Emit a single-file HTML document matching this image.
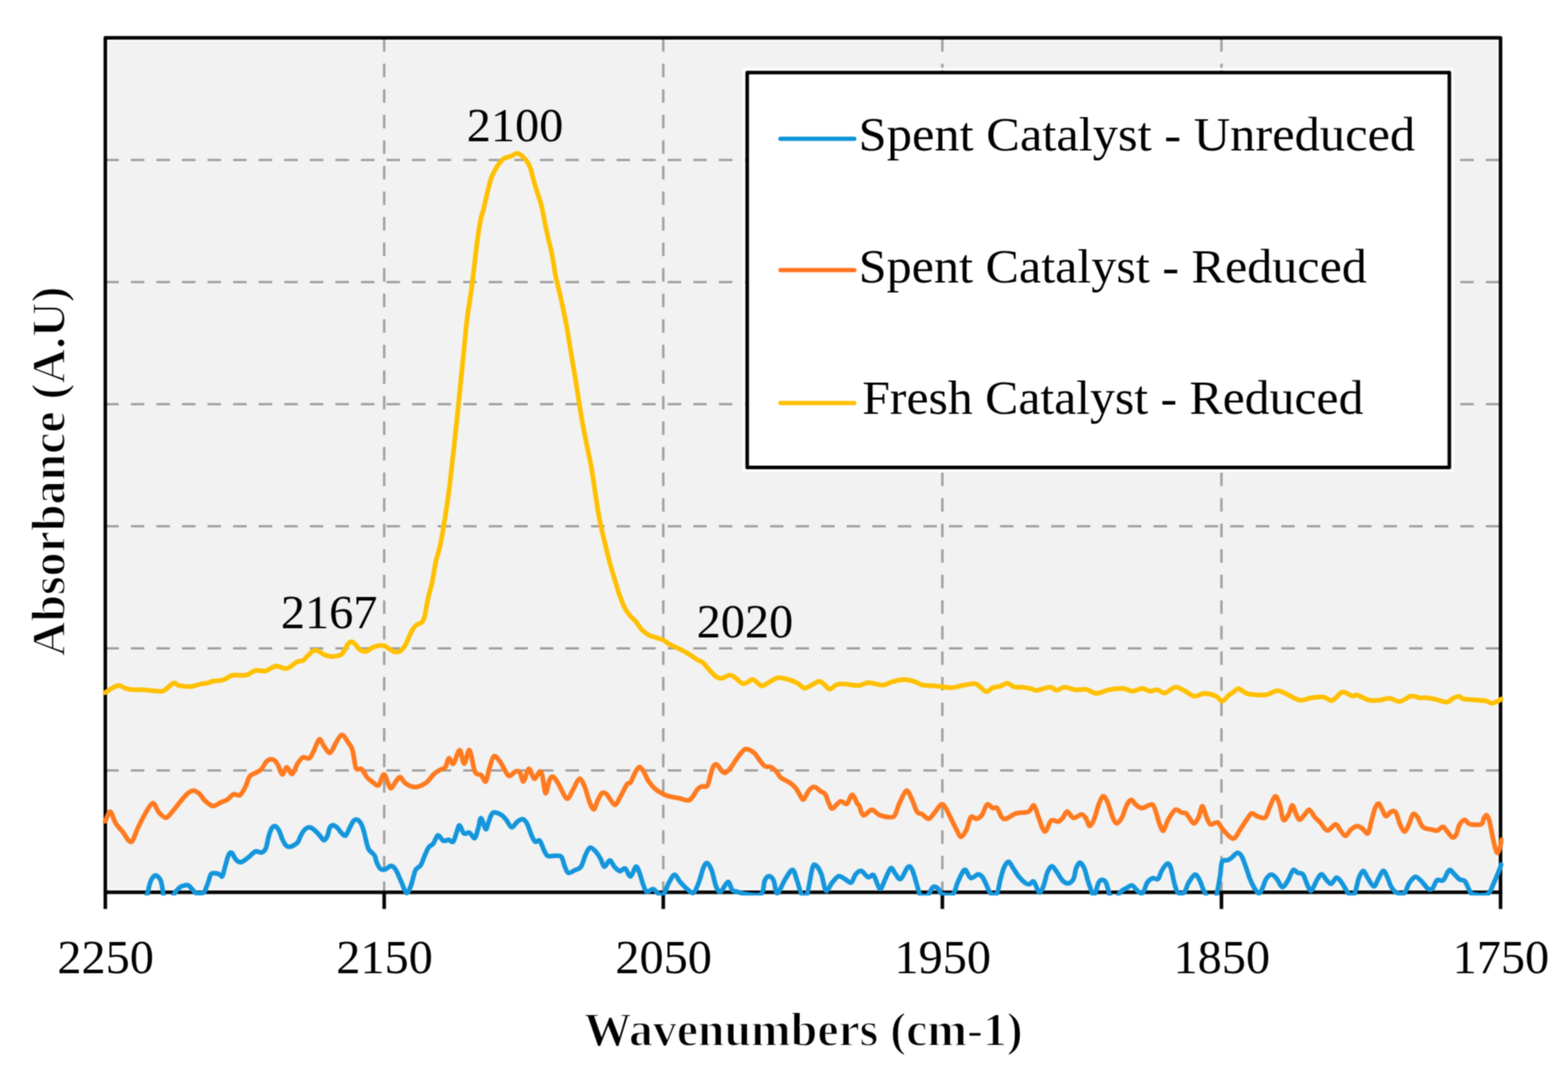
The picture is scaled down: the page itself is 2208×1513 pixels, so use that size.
<!DOCTYPE html>
<html><head><meta charset="utf-8"><title>FTIR chart</title>
<style>
html,body{margin:0;padding:0;background:#fff;overflow:hidden;}
svg{display:block;}
.t{font-family:"Liberation Serif",serif;font-size:68px;fill:#000;}
.b{font-family:"Liberation Serif",serif;font-size:68px;font-weight:bold;fill:#000;stroke:#fff;stroke-width:1.8px;}
</style></head><body>
<svg width="2208" height="1513" viewBox="0 0 2208 1513">
<defs><filter id="soft" x="0" y="0" width="1" height="1" color-interpolation-filters="sRGB"><feConvolveMatrix order="3" kernelMatrix="1 2 1 2 4 2 1 2 1" divisor="16" edgeMode="duplicate" preserveAlpha="true"/></filter></defs>
<g filter="url(#soft)">
<rect x="0" y="0" width="2208" height="1513" fill="#fff"/>
<rect x="148.3" y="53.2" width="1964.7" height="1203.8" fill="#f2f2f2"/>
<rect x="152.10000000000002" y="57.0" width="1957.1" height="1196.2" fill="none" stroke="#fbfbfb" stroke-width="3"/>
<line x1="148.3" y1="225.4" x2="2113.0" y2="225.4" stroke="#a0a0a0" stroke-width="3.4" stroke-dasharray="19 17"/>
<line x1="148.3" y1="397.4" x2="2113.0" y2="397.4" stroke="#a0a0a0" stroke-width="3.4" stroke-dasharray="19 17"/>
<line x1="148.3" y1="569.4" x2="2113.0" y2="569.4" stroke="#a0a0a0" stroke-width="3.4" stroke-dasharray="19 17"/>
<line x1="148.3" y1="741.4" x2="2113.0" y2="741.4" stroke="#a0a0a0" stroke-width="3.4" stroke-dasharray="19 17"/>
<line x1="148.3" y1="913.4" x2="2113.0" y2="913.4" stroke="#a0a0a0" stroke-width="3.4" stroke-dasharray="19 17"/>
<line x1="148.3" y1="1085.4" x2="2113.0" y2="1085.4" stroke="#a0a0a0" stroke-width="3.4" stroke-dasharray="19 17"/>
<line x1="541.0" y1="53.7" x2="541.0" y2="1257.0" stroke="#a0a0a0" stroke-width="3.4" stroke-dasharray="19 17"/>
<line x1="934.0" y1="53.7" x2="934.0" y2="1257.0" stroke="#a0a0a0" stroke-width="3.4" stroke-dasharray="19 17"/>
<line x1="1327.0" y1="53.7" x2="1327.0" y2="1257.0" stroke="#a0a0a0" stroke-width="3.4" stroke-dasharray="19 17"/>
<line x1="1720.0" y1="53.7" x2="1720.0" y2="1257.0" stroke="#a0a0a0" stroke-width="3.4" stroke-dasharray="19 17"/>
<rect x="148.3" y="53.2" width="1964.7" height="1203.8" fill="none" stroke="#000" stroke-width="5" stroke-linejoin="round"/>
<line x1="148.3" y1="1257.0" x2="148.3" y2="1280.5" stroke="#000" stroke-width="5"/>
<line x1="541.0" y1="1257.0" x2="541.0" y2="1280.5" stroke="#000" stroke-width="5"/>
<line x1="934.0" y1="1257.0" x2="934.0" y2="1280.5" stroke="#000" stroke-width="5"/>
<line x1="1327.0" y1="1257.0" x2="1327.0" y2="1280.5" stroke="#000" stroke-width="5"/>
<line x1="1720.0" y1="1257.0" x2="1720.0" y2="1280.5" stroke="#000" stroke-width="5"/>
<line x1="2113.0" y1="1257.0" x2="2113.0" y2="1280.5" stroke="#000" stroke-width="5"/>
<rect x="1047.2" y="97.2" width="998.7" height="566.3" fill="none" stroke="#fcfcfc" stroke-width="3.5" stroke-linejoin="round"/>
<rect x="1052.2" y="102.2" width="988.7" height="556.3" fill="#fff" stroke="#000" stroke-width="5" stroke-linejoin="round"/>
<line x1="1099" y1="195.5" x2="1203" y2="195.5" stroke="#0a94d6" stroke-width="6" stroke-linecap="round"/>
<text x="1209.1" y="212" class="t" textLength="783.7" lengthAdjust="spacingAndGlyphs">Spent Catalyst - Unreduced</text>
<line x1="1099" y1="380.6" x2="1203" y2="380.6" stroke="#ff7320" stroke-width="6" stroke-linecap="round"/>
<text x="1209.3" y="398" class="t" textLength="715.5" lengthAdjust="spacingAndGlyphs">Spent Catalyst - Reduced</text>
<line x1="1099" y1="567.7" x2="1203" y2="567.7" stroke="#ffc000" stroke-width="6" stroke-linecap="round"/>
<text x="1214.2" y="583" class="t" textLength="705.7" lengthAdjust="spacingAndGlyphs">Fresh Catalyst - Reduced</text>
<text x="148.70000000000002" y="1370.5" class="t" text-anchor="middle">2250</text>
<text x="541.4" y="1370.5" class="t" text-anchor="middle">2150</text>
<text x="934.4" y="1370.5" class="t" text-anchor="middle">2050</text>
<text x="1327.4" y="1370.5" class="t" text-anchor="middle">1950</text>
<text x="1720.4" y="1370.5" class="t" text-anchor="middle">1850</text>
<text x="2113.4" y="1370.5" class="t" text-anchor="middle">1750</text>
<text x="725.2" y="199.3" class="t" text-anchor="middle">2100</text>
<text x="463.4" y="885.2" class="t" text-anchor="middle">2167</text>
<text x="1049" y="897.8" class="t" text-anchor="middle">2020</text>
<text x="1131.2" y="1473.2" class="b" text-anchor="middle" textLength="618" lengthAdjust="spacingAndGlyphs">Wavenumbers (cm-1)</text>
<text transform="translate(91,664.0) rotate(-90)" class="b" text-anchor="middle" textLength="521" lengthAdjust="spacingAndGlyphs">Absorbance (A.U)</text>
<defs><clipPath id="pc"><rect x="145" y="50" width="1972" height="1211.5"/></clipPath></defs>
<g clip-path="url(#pc)" fill="none" stroke-width="6.6" stroke-linejoin="round" stroke-linecap="round">
<path d="M148.2,975.8C149.5,974.9 153.1,972.1 156.3,970.4C159.5,968.7 163.8,965.7 167.2,965.6C170.6,965.5 173.3,968.7 176.7,969.7C180.1,970.7 183.5,971.4 187.6,971.7C191.7,972.0 196.3,971.5 201.1,971.7C205.8,971.9 211.6,972.8 216.1,973.1C220.6,973.5 225.1,974.4 228.3,973.8C231.5,973.2 232.4,971.6 235.1,969.7C237.8,967.8 241.9,962.9 244.6,962.2C247.3,961.5 248.4,964.8 251.4,965.6C254.4,966.4 259.1,966.8 262.3,967.0C265.5,967.2 267.0,967.6 270.4,967.0C273.8,966.4 279.1,964.4 282.7,963.6C286.3,962.8 289.3,962.9 292.2,962.2C295.1,961.5 297.4,960.1 300.3,959.5C303.2,958.9 307.1,959.2 309.8,958.8C312.5,958.3 313.7,958.0 316.6,956.8C319.6,955.5 324.1,952.2 327.5,951.3C330.9,950.4 333.6,951.4 337.0,951.3C340.4,951.2 344.0,951.8 347.9,950.7C351.8,949.6 355.8,945.4 360.1,944.5C364.4,943.6 368.9,946.2 373.7,945.2C378.4,944.2 383.6,939.0 388.6,938.4C393.6,937.8 398.6,942.8 403.6,941.8C408.6,940.8 414.7,934.1 418.5,932.3C422.3,930.4 424.1,932.1 426.5,930.7C428.9,929.3 430.5,926.5 433.0,924.1C435.5,921.7 439.1,917.7 441.7,916.5C444.2,915.3 445.9,916.2 448.3,917.1C450.7,918.0 453.0,920.7 455.9,922.0C458.8,923.3 462.6,924.4 465.7,924.7C468.8,925.1 471.6,924.7 474.3,924.1C477.0,923.5 479.4,923.6 482.0,920.9C484.6,918.2 487.4,910.6 489.6,907.8C491.8,905.0 493.2,904.0 495.0,904.0C496.8,904.0 498.4,905.9 500.4,907.8C502.4,909.7 504.4,913.8 507.0,915.4C509.6,917.0 512.8,918.1 515.7,917.6C518.6,917.1 521.2,913.6 524.3,912.2C527.4,910.9 531.2,909.9 534.1,909.5C537.0,909.1 539.3,909.2 541.7,910.0C544.1,910.8 545.8,912.8 548.3,914.3C550.8,915.8 554.3,918.3 557.0,918.7C559.7,919.1 562.3,918.2 564.6,916.5C566.9,914.8 568.4,913.3 570.9,908.7C573.4,904.1 577.3,893.4 579.8,888.8C582.3,884.2 583.5,882.9 585.8,880.9C588.1,878.9 591.7,879.0 593.7,877.0C595.7,875.0 596.6,872.8 597.7,869.0C598.9,865.2 599.6,859.2 600.6,854.2C601.6,849.2 602.4,844.3 603.6,839.3C604.8,834.3 606.5,829.3 607.6,824.4C608.8,819.5 609.4,815.4 610.5,809.6C611.6,803.8 612.5,796.3 614.0,789.7C615.5,783.1 617.7,778.1 619.5,769.9C621.3,761.7 622.9,752.6 624.9,740.4C626.9,728.2 629.5,711.6 631.5,696.8C633.5,682.0 635.5,663.3 636.8,651.8C638.1,640.3 638.3,639.0 639.5,628.0C640.7,617.0 642.2,603.0 644.0,586.0C645.8,569.0 648.3,543.1 650.0,525.9C651.7,508.7 653.0,495.9 654.3,483.0C655.6,470.1 656.4,460.1 657.8,448.7C659.2,437.2 661.5,424.2 662.9,414.3C664.3,404.4 665.1,398.2 666.2,389.1C667.3,380.1 668.4,369.7 669.6,360.0C670.8,350.3 672.1,339.4 673.3,330.9C674.5,322.4 675.6,315.4 676.9,309.1C678.2,302.8 680.0,298.4 681.3,293.1C682.6,287.8 683.7,282.2 684.9,277.1C686.1,272.0 687.3,267.1 688.5,262.5C689.7,257.9 690.6,253.6 692.2,249.5C693.8,245.4 696.1,241.2 698.0,237.8C699.9,234.4 701.9,231.5 703.8,229.1C705.7,226.7 707.2,224.8 709.6,223.3C712.0,221.9 715.2,221.6 718.4,220.4C721.5,219.2 725.6,216.0 728.5,216.0C731.4,216.0 733.4,218.2 735.8,220.4C738.2,222.6 741.1,225.9 743.1,229.1C745.1,232.2 746.0,234.9 747.5,239.3C749.0,243.7 750.3,250.2 751.8,255.3C753.2,260.4 754.8,265.2 756.2,269.8C757.7,274.4 759.3,278.8 760.5,282.9C761.7,287.0 762.5,290.1 763.5,294.5C764.5,298.9 765.4,304.2 766.4,309.1C767.4,314.0 768.2,318.5 769.3,323.6C770.4,328.7 771.7,334.5 772.9,339.6C774.1,344.7 775.4,348.9 776.5,354.2C777.6,359.5 778.5,365.8 779.5,371.6C780.5,377.4 781.3,383.7 782.4,389.1C783.5,394.5 784.4,397.2 786.0,404.0C787.6,410.8 789.9,420.6 791.9,429.8C793.9,439.1 796.1,449.6 797.9,459.5C799.7,469.4 801.1,479.4 802.8,489.3C804.4,499.2 806.3,510.1 807.8,519.0C809.3,527.9 810.4,534.6 811.7,542.9C813.0,551.2 814.2,559.5 815.7,568.7C817.2,578.0 818.9,588.5 820.7,598.4C822.5,608.3 824.6,618.3 826.6,628.2C828.6,638.1 830.8,647.6 832.6,657.9C834.4,668.2 836.0,679.6 837.6,690.0C839.2,700.4 840.7,711.5 842.2,720.4C843.7,729.3 844.9,735.1 846.7,743.2C848.5,751.3 850.6,760.2 852.8,769.1C855.0,778.0 857.4,788.1 859.7,796.5C862.0,804.9 864.4,812.2 866.5,819.3C868.6,826.4 870.3,832.7 872.6,839.0C874.9,845.3 877.7,852.5 880.2,857.3C882.7,862.1 885.3,865.0 887.8,868.0C890.3,871.0 892.9,872.6 895.4,875.6C897.9,878.6 900.2,883.2 903.0,886.2C905.8,889.2 908.6,891.8 912.1,893.8C915.6,895.8 920.8,897.1 924.3,898.4C927.8,899.7 930.4,899.9 933.4,901.4C936.4,902.9 939.7,905.9 942.5,907.5C945.3,909.1 947.4,909.8 950.0,911.0C952.6,912.2 954.5,913.1 958.0,914.9C961.5,916.7 966.7,919.4 970.7,921.8C974.7,924.2 978.9,927.6 982.1,929.5C985.3,931.4 987.0,931.0 989.7,933.3C992.5,935.6 995.4,940.0 998.6,943.4C1001.8,946.8 1005.8,951.5 1008.8,953.5C1011.8,955.5 1013.2,955.9 1016.4,955.5C1019.6,955.1 1024.6,951.1 1027.8,951.0C1031.0,950.9 1032.2,952.8 1035.4,954.8C1038.6,956.8 1042.8,962.7 1046.8,963.1C1050.8,963.5 1056.3,957.7 1059.5,957.4C1062.7,957.1 1063.5,959.7 1065.8,961.2C1068.1,962.7 1070.2,966.4 1073.4,966.2C1076.6,966.0 1081.1,961.8 1084.9,959.9C1088.7,958.0 1091.7,955.1 1096.3,954.8C1100.9,954.5 1108.3,956.7 1112.7,958.0C1117.1,959.3 1119.5,960.5 1122.9,962.4C1126.3,964.3 1129.6,969.0 1133.0,969.4C1136.4,969.8 1139.8,966.6 1143.2,965.0C1146.6,963.4 1150.3,960.0 1153.3,959.9C1156.2,959.8 1158.4,962.5 1160.9,964.3C1163.4,966.1 1165.5,970.7 1168.5,970.7C1171.5,970.7 1175.1,965.5 1178.7,964.3C1182.3,963.1 1185.0,963.5 1190.0,963.7C1195.0,963.9 1203.5,966.0 1209.0,965.7C1214.5,965.4 1217.3,961.9 1223.0,961.8C1228.7,961.7 1237.8,965.2 1243.3,965.0C1248.8,964.8 1250.8,961.9 1255.9,960.6C1261.0,959.3 1268.2,957.4 1273.7,957.4C1279.2,957.4 1284.7,959.3 1288.9,960.6C1293.1,961.9 1294.4,964.0 1299.1,965.0C1303.8,966.0 1310.0,965.7 1316.8,966.3C1323.5,966.9 1333.3,968.9 1339.6,968.8C1345.9,968.7 1349.3,966.7 1354.8,965.7C1360.3,964.8 1368.4,962.8 1372.6,963.1C1376.8,963.4 1377.5,965.7 1380.2,967.6C1383.0,969.5 1386.1,974.3 1389.1,974.5C1392.1,974.7 1394.8,970.1 1398.0,968.8C1401.2,967.5 1404.7,967.9 1408.1,966.9C1411.5,965.9 1414.9,962.4 1418.3,962.5C1421.7,962.6 1424.6,966.6 1428.4,967.6C1432.2,968.6 1436.9,967.7 1441.1,968.2C1445.3,968.7 1450.6,970.0 1453.8,970.7C1457.0,971.4 1455.8,973.0 1460.0,972.5C1464.2,972.0 1474.3,968.0 1479.0,968.0C1483.7,968.0 1484.5,972.5 1487.9,972.5C1491.3,972.5 1494.9,968.1 1499.3,968.0C1503.7,967.9 1509.4,971.3 1514.5,971.8C1519.6,972.3 1524.8,970.4 1529.7,971.2C1534.6,972.1 1538.4,976.8 1543.7,976.9C1549.0,977.0 1555.1,973.0 1561.4,971.8C1567.7,970.6 1576.2,969.6 1581.7,969.9C1587.2,970.2 1590.0,973.7 1594.4,973.7C1598.9,973.7 1604.2,969.9 1608.4,969.9C1612.6,969.9 1616.2,973.4 1619.8,973.7C1623.4,974.0 1626.5,971.4 1629.9,971.8C1633.3,972.2 1635.9,976.9 1640.1,976.3C1644.3,975.7 1650.6,968.5 1655.3,968.0C1660.0,967.5 1663.6,971.0 1668.0,973.1C1672.4,975.2 1677.2,980.1 1681.9,980.7C1686.6,981.3 1690.8,976.9 1695.9,976.9C1701.0,976.9 1708.1,978.9 1712.3,980.7C1716.5,982.5 1718.2,987.9 1721.2,987.7C1724.2,987.5 1727.6,981.5 1730.1,979.5C1732.6,977.5 1734.0,977.0 1736.3,975.5C1738.6,974.0 1740.8,970.2 1744.0,970.4C1747.2,970.6 1751.4,975.4 1755.4,976.8C1759.4,978.2 1763.3,978.4 1768.0,978.7C1772.7,979.0 1778.2,979.7 1783.3,978.7C1788.4,977.8 1794.1,973.3 1798.5,973.0C1802.9,972.7 1804.6,974.6 1809.9,976.8C1815.2,979.0 1824.1,985.2 1830.2,986.3C1836.3,987.3 1841.2,983.9 1846.7,983.1C1852.2,982.4 1858.4,981.2 1863.1,981.8C1867.8,982.4 1871.4,986.9 1874.6,986.9C1877.8,986.9 1879.5,983.8 1882.2,981.8C1884.9,979.8 1887.2,975.1 1891.0,974.9C1894.8,974.7 1901.6,979.9 1905.0,980.6C1908.4,981.3 1907.5,978.3 1911.3,979.3C1915.1,980.2 1922.5,985.1 1927.8,986.3C1933.1,987.5 1938.1,986.7 1943.0,986.3C1947.9,985.9 1952.3,983.4 1957.0,983.7C1961.7,984.0 1965.8,988.7 1970.9,988.2C1976.0,987.7 1982.6,981.4 1987.4,980.6C1992.2,979.8 1996.5,982.8 2000.0,983.2C2003.5,983.6 2004.6,982.5 2008.2,982.9C2011.8,983.2 2016.7,984.3 2021.7,985.3C2026.7,986.3 2033.9,989.4 2038.0,989.1C2042.1,988.8 2043.5,985.1 2046.2,983.7C2048.9,982.4 2051.8,980.8 2054.3,981.0C2056.8,981.2 2057.8,984.0 2061.4,984.8C2065.0,985.6 2070.9,985.4 2076.1,985.9C2081.3,986.4 2088.3,986.7 2092.4,987.5C2096.5,988.3 2097.8,990.7 2100.5,990.8C2103.2,990.9 2106.4,989.0 2108.7,988.0C2111.0,987.0 2113.2,985.3 2114.1,984.8" stroke="#ffc000"/>
<path d="M148.2,1157.0C149.4,1154.8 152.8,1143.2 155.2,1143.6C157.6,1144.0 159.8,1154.7 162.8,1159.5C165.8,1164.3 169.4,1167.8 173.0,1172.2C176.6,1176.6 181.0,1186.7 184.4,1186.1C187.8,1185.5 190.4,1174.3 193.3,1168.4C196.2,1162.5 198.5,1156.7 202.1,1150.6C205.7,1144.5 211.2,1132.6 214.8,1131.6C218.4,1130.5 220.5,1140.9 223.7,1144.3C226.9,1147.7 230.4,1152.3 233.8,1151.9C237.2,1151.5 240.6,1145.5 244.0,1141.7C247.4,1137.9 250.9,1132.9 254.1,1129.1C257.3,1125.3 260.0,1121.5 263.0,1118.9C266.0,1116.4 268.9,1113.9 271.9,1113.8C274.9,1113.7 278.1,1116.0 280.8,1118.3C283.6,1120.6 285.2,1124.9 288.4,1127.8C291.6,1130.7 296.0,1135.0 299.8,1135.4C303.6,1135.8 307.8,1131.8 311.2,1130.3C314.6,1128.8 317.2,1128.4 320.1,1126.5C323.1,1124.6 325.9,1120.0 328.9,1118.9C331.8,1117.9 335.1,1121.9 337.8,1120.2C340.6,1118.5 343.1,1113.2 345.4,1108.8C347.7,1104.3 349.3,1096.9 351.8,1093.5C354.3,1090.1 357.9,1090.2 360.6,1088.5C363.4,1086.8 365.8,1086.2 368.3,1083.4C370.9,1080.7 373.2,1074.2 375.9,1072.0C378.6,1069.8 382.2,1069.2 384.7,1070.1C387.2,1070.9 389.0,1073.6 391.1,1077.1C393.2,1080.6 395.3,1090.4 397.4,1091.0C399.5,1091.6 401.5,1081.0 403.8,1080.9C406.1,1080.8 408.9,1091.2 411.4,1090.4C413.9,1089.6 416.5,1079.7 419.0,1075.8C421.5,1071.9 423.9,1068.2 426.6,1066.9C429.4,1065.6 433.0,1069.7 435.5,1068.2C438.0,1066.7 439.5,1062.4 441.8,1058.0C444.1,1053.6 447.2,1042.9 449.5,1041.6C451.8,1040.3 453.3,1047.2 455.8,1050.4C458.3,1053.6 461.9,1061.0 464.7,1060.6C467.4,1060.2 469.6,1052.1 472.3,1047.9C475.1,1043.7 478.2,1035.6 481.2,1035.2C484.1,1034.8 487.5,1041.8 490.0,1045.4C492.5,1049.0 494.5,1050.7 496.4,1056.8C498.3,1062.9 499.3,1077.7 501.4,1082.1C503.5,1086.5 506.6,1081.3 509.1,1083.4C511.7,1085.5 514.0,1091.6 516.7,1094.8C519.4,1098.0 522.8,1100.5 525.5,1102.4C528.2,1104.3 530.6,1108.1 533.1,1106.2C535.6,1104.3 538.0,1090.4 540.8,1091.0C543.5,1091.6 546.9,1108.3 549.6,1110.0C552.3,1111.7 554.9,1103.7 557.2,1101.2C559.5,1098.7 561.3,1094.4 563.6,1094.8C565.9,1095.2 567.6,1101.4 571.2,1103.7C574.8,1106.0 580.2,1109.0 585.1,1108.8C590.0,1108.6 596.2,1105.4 600.4,1102.4C604.6,1099.4 607.3,1094.0 610.5,1091.0C613.7,1088.0 616.6,1086.4 619.4,1084.7C622.1,1083.0 624.9,1083.7 627.0,1080.9C629.1,1078.2 630.2,1069.1 632.1,1068.2C634.0,1067.3 635.9,1077.7 638.4,1075.8C640.9,1073.9 644.8,1056.8 647.3,1056.8C649.8,1056.8 651.3,1075.8 653.6,1075.8C655.9,1075.8 658.7,1054.9 661.2,1056.8C663.7,1058.7 666.1,1081.3 668.8,1087.2C671.5,1093.1 675.1,1089.7 677.6,1092.0C680.1,1094.3 682.1,1102.4 684.0,1100.9C685.9,1099.4 687.1,1089.0 689.0,1083.1C690.9,1077.2 692.9,1067.1 695.4,1065.4C697.9,1063.7 701.7,1069.8 704.2,1073.0C706.7,1076.2 708.5,1081.0 710.6,1084.4C712.7,1087.8 714.4,1092.9 716.9,1093.3C719.4,1093.7 723.3,1087.8 725.8,1086.9C728.3,1086.1 730.2,1085.9 732.1,1088.2C734.0,1090.5 735.1,1101.8 737.2,1100.9C739.3,1100.1 742.3,1083.7 744.8,1083.1C747.3,1082.5 749.9,1096.5 752.4,1097.1C754.9,1097.7 758.1,1087.5 760.0,1086.9C761.9,1086.3 762.4,1088.2 763.8,1093.3C765.2,1098.4 766.6,1116.6 768.3,1117.4C770.0,1118.2 772.2,1102.1 774.0,1098.3C775.8,1094.5 777.0,1093.4 779.1,1094.5C781.2,1095.6 783.5,1099.6 786.7,1104.7C789.9,1109.8 794.7,1123.7 798.1,1125.0C801.5,1126.3 804.0,1117.0 807.0,1112.3C810.0,1107.6 813.1,1097.7 815.8,1097.1C818.5,1096.5 821.1,1103.2 823.4,1108.5C825.7,1113.8 827.7,1123.5 829.8,1128.8C831.9,1134.1 834.2,1140.2 836.1,1140.2C838.0,1140.2 839.3,1132.6 841.2,1128.8C843.1,1125.0 845.4,1119.1 847.5,1117.4C849.6,1115.7 851.8,1116.9 853.9,1118.6C856.0,1120.3 858.1,1125.0 860.2,1127.5C862.3,1130.0 864.3,1134.8 866.6,1133.8C868.9,1132.8 871.5,1126.0 874.2,1121.2C876.9,1116.4 880.7,1107.9 883.0,1104.7C885.3,1101.5 886.2,1104.8 888.1,1102.1C890.0,1099.3 892.4,1091.8 894.5,1088.2C896.6,1084.6 898.7,1080.6 900.8,1080.6C902.9,1080.6 905.0,1084.8 907.1,1088.2C909.2,1091.6 910.8,1096.9 913.5,1100.9C916.2,1104.9 920.2,1109.3 923.6,1112.3C927.0,1115.2 931.1,1117.1 933.8,1118.6C936.5,1120.1 936.4,1120.2 940.0,1121.2C943.6,1122.2 950.3,1123.2 955.2,1124.3C960.1,1125.3 965.8,1127.8 969.2,1127.5C972.6,1127.2 973.4,1124.9 975.5,1122.4C977.6,1119.9 979.7,1114.7 981.8,1112.3C983.9,1109.9 985.9,1108.6 988.2,1107.8C990.5,1107.0 993.7,1110.0 995.8,1107.2C997.9,1104.4 999.4,1095.4 1000.9,1090.7C1002.4,1086.0 1003.2,1081.5 1004.7,1079.3C1006.2,1077.1 1007.8,1076.3 1009.7,1077.4C1011.6,1078.5 1014.2,1083.8 1016.1,1085.7C1018.0,1087.6 1019.1,1089.5 1021.2,1088.8C1023.3,1088.1 1026.3,1084.9 1028.8,1081.8C1031.3,1078.7 1033.9,1074.0 1036.4,1070.4C1038.9,1066.8 1041.7,1062.8 1044.0,1060.3C1046.3,1057.8 1047.3,1055.2 1050.3,1055.2C1053.2,1055.2 1058.5,1057.8 1061.7,1060.3C1064.9,1062.8 1066.8,1067.2 1069.3,1070.4C1071.8,1073.6 1074.2,1077.6 1077.0,1079.3C1079.8,1081.0 1083.1,1079.3 1085.8,1080.6C1088.5,1081.9 1091.1,1084.4 1093.4,1086.9C1095.7,1089.4 1096.8,1093.3 1099.8,1095.8C1102.8,1098.3 1107.8,1099.8 1111.2,1102.1C1114.6,1104.4 1117.6,1106.7 1120.1,1109.7C1122.6,1112.7 1124.5,1117.2 1126.4,1119.9C1128.3,1122.7 1129.4,1127.3 1131.5,1126.2C1133.6,1125.1 1136.6,1116.5 1139.1,1113.5C1141.6,1110.5 1144.0,1108.3 1146.7,1108.5C1149.5,1108.7 1153.1,1113.1 1155.6,1114.8C1158.1,1116.5 1160.0,1115.8 1161.9,1118.6C1163.8,1121.3 1165.3,1127.9 1167.0,1131.3C1168.7,1134.7 1169.3,1139.3 1172.1,1138.9C1174.8,1138.5 1180.1,1129.8 1183.5,1128.8C1186.9,1127.8 1189.5,1134.1 1192.3,1132.6C1195.0,1131.1 1197.5,1119.9 1200.0,1119.9C1202.5,1119.9 1205.9,1130.1 1207.6,1132.6C1209.3,1135.1 1208.7,1132.3 1210.0,1135.0C1211.3,1137.7 1212.7,1147.5 1215.7,1148.5C1218.7,1149.5 1223.9,1140.9 1227.8,1140.9C1231.7,1140.9 1234.1,1146.9 1239.2,1148.5C1244.3,1150.1 1253.8,1152.9 1258.2,1150.4C1262.6,1147.9 1262.8,1139.3 1265.8,1133.3C1268.8,1127.3 1273.0,1115.7 1275.9,1114.2C1278.9,1112.7 1281.0,1119.5 1283.5,1124.4C1286.0,1129.3 1288.7,1139.6 1291.2,1143.4C1293.8,1147.2 1296.1,1145.5 1298.8,1147.2C1301.5,1148.9 1304.9,1153.7 1307.6,1153.5C1310.3,1153.3 1312.2,1149.3 1315.2,1145.9C1318.2,1142.5 1322.7,1134.6 1325.4,1133.3C1328.2,1132.0 1329.4,1134.9 1331.7,1138.3C1334.0,1141.7 1336.8,1148.4 1339.3,1153.5C1341.8,1158.6 1344.7,1164.6 1347.0,1168.8C1349.3,1173.0 1351.0,1178.9 1353.3,1178.9C1355.6,1178.9 1358.6,1173.5 1360.9,1168.8C1363.2,1164.1 1364.9,1153.5 1367.2,1151.0C1369.5,1148.5 1372.2,1153.9 1374.8,1153.5C1377.3,1153.1 1380.0,1151.9 1382.5,1148.5C1385.0,1145.1 1387.6,1135.0 1390.1,1133.3C1392.6,1131.6 1395.4,1137.5 1397.7,1138.3C1400.0,1139.1 1401.9,1136.2 1404.0,1138.3C1406.1,1140.4 1408.3,1148.5 1410.4,1151.0C1412.5,1153.5 1413.3,1154.3 1416.7,1153.5C1420.1,1152.7 1425.3,1147.6 1430.6,1145.9C1435.9,1144.2 1444.2,1145.3 1448.4,1143.4C1452.6,1141.5 1453.7,1133.2 1456.0,1134.5C1458.3,1135.8 1459.8,1144.9 1462.3,1151.0C1464.8,1157.1 1468.2,1170.5 1471.2,1171.3C1474.2,1172.1 1476.9,1158.4 1480.1,1156.1C1483.2,1153.8 1487.4,1158.0 1490.1,1157.4C1492.8,1156.8 1494.4,1154.6 1496.5,1152.3C1498.6,1150.0 1500.3,1143.4 1502.8,1143.4C1505.3,1143.4 1508.3,1151.7 1511.7,1152.3C1515.1,1152.9 1520.1,1147.0 1523.1,1147.2C1526.1,1147.4 1527.6,1150.8 1529.5,1153.5C1531.4,1156.2 1532.6,1163.7 1534.5,1163.7C1536.4,1163.7 1538.8,1158.6 1540.9,1153.5C1543.0,1148.4 1545.1,1138.6 1547.2,1133.3C1549.3,1128.0 1551.4,1122.2 1553.5,1121.8C1555.6,1121.4 1557.8,1126.0 1559.9,1130.7C1562.0,1135.4 1564.1,1144.8 1566.2,1149.7C1568.3,1154.6 1570.3,1159.7 1572.6,1159.9C1574.9,1160.1 1577.9,1155.2 1580.2,1151.0C1582.5,1146.8 1584.4,1138.5 1586.5,1134.5C1588.6,1130.5 1590.8,1127.1 1592.9,1126.9C1595.0,1126.7 1596.7,1131.4 1599.2,1133.3C1601.7,1135.2 1604.3,1138.3 1608.1,1138.3C1611.9,1138.3 1618.8,1132.7 1622.0,1133.3C1625.2,1133.9 1625.2,1137.2 1627.1,1142.1C1629.0,1146.9 1631.5,1157.8 1633.4,1162.4C1635.3,1167.1 1636.6,1171.3 1638.5,1170.0C1640.4,1168.7 1642.2,1159.6 1644.9,1154.8C1647.7,1150.0 1651.8,1142.6 1655.0,1140.9C1658.2,1139.2 1661.4,1143.9 1663.9,1144.7C1666.4,1145.5 1668.1,1144.2 1670.2,1145.9C1672.3,1147.6 1674.6,1152.5 1676.5,1154.8C1678.4,1157.1 1679.7,1160.5 1681.6,1159.9C1683.5,1159.3 1686.1,1155.0 1688.0,1151.0C1689.9,1147.0 1691.3,1136.2 1693.0,1135.8C1694.7,1135.4 1696.2,1144.3 1698.1,1148.5C1700.0,1152.7 1701.7,1159.5 1704.4,1161.2C1707.2,1162.9 1711.6,1157.3 1714.6,1158.6C1717.6,1159.9 1718.6,1165.0 1722.2,1168.8C1725.8,1172.6 1732.2,1181.4 1736.2,1181.4C1740.2,1181.4 1743.0,1173.5 1746.3,1168.8C1749.6,1164.1 1753.6,1157.3 1756.3,1153.5C1759.0,1149.7 1760.2,1146.4 1762.7,1145.9C1765.2,1145.4 1768.4,1149.5 1771.6,1150.4C1774.8,1151.4 1779.0,1153.8 1781.7,1151.6C1784.4,1149.4 1785.7,1142.1 1788.0,1137.1C1790.3,1132.1 1793.4,1122.4 1795.7,1121.8C1798.0,1121.2 1800.1,1127.8 1802.0,1133.3C1803.9,1138.8 1805.0,1152.5 1807.1,1154.8C1809.2,1157.1 1812.6,1150.6 1814.7,1147.2C1816.8,1143.8 1818.0,1134.7 1819.7,1134.5C1821.4,1134.3 1823.1,1142.5 1824.8,1145.9C1826.5,1149.3 1827.8,1154.6 1829.9,1154.8C1832.0,1155.0 1835.2,1149.5 1837.5,1147.2C1839.8,1144.9 1841.5,1140.3 1843.8,1140.9C1846.1,1141.5 1848.9,1148.0 1851.4,1151.0C1854.0,1154.0 1856.1,1155.4 1859.1,1158.6C1862.1,1161.8 1865.6,1169.6 1869.2,1170.0C1872.8,1170.4 1877.6,1161.4 1880.6,1161.2C1883.5,1161.0 1884.6,1166.1 1886.9,1168.8C1889.2,1171.5 1892.0,1177.6 1894.6,1177.6C1897.1,1177.6 1899.5,1171.1 1902.2,1168.8C1904.9,1166.5 1908.2,1163.9 1911.0,1163.7C1913.8,1163.5 1916.2,1165.8 1918.7,1167.5C1921.2,1169.2 1924.2,1175.7 1926.3,1173.8C1928.4,1171.9 1929.6,1162.0 1931.3,1156.1C1933.0,1150.2 1934.7,1142.3 1936.4,1138.3C1938.1,1134.3 1939.8,1131.6 1941.5,1132.0C1943.2,1132.4 1944.9,1138.0 1946.6,1140.9C1948.3,1143.9 1949.5,1149.3 1951.6,1149.7C1953.7,1150.1 1956.9,1144.2 1959.2,1143.4C1961.5,1142.6 1963.5,1141.5 1965.6,1144.7C1967.7,1147.9 1969.8,1158.0 1971.9,1162.4C1974.0,1166.8 1976.2,1171.7 1978.3,1171.3C1980.4,1170.9 1982.7,1163.9 1984.6,1159.9C1986.5,1155.9 1987.8,1148.7 1989.7,1147.2C1991.6,1145.7 1993.7,1148.0 1996.0,1151.0C1998.3,1154.0 2000.2,1162.0 2003.6,1165.0C2007.0,1168.0 2012.9,1168.0 2016.3,1168.8C2019.7,1169.6 2021.3,1170.7 2023.9,1170.0C2026.5,1169.3 2029.7,1164.9 2031.9,1164.9C2034.1,1164.9 2035.0,1167.8 2037.2,1170.2C2039.4,1172.6 2042.9,1178.5 2045.1,1179.5C2047.3,1180.5 2048.8,1179.1 2050.4,1176.2C2052.1,1173.3 2053.0,1165.8 2055.0,1162.3C2057.0,1158.8 2060.2,1155.4 2062.3,1155.0C2064.4,1154.6 2065.8,1158.6 2067.6,1159.7C2069.4,1160.8 2069.8,1161.4 2072.9,1161.6C2076.0,1161.8 2083.3,1162.4 2086.1,1161.0C2088.8,1159.6 2088.2,1155.1 2089.4,1153.0C2090.6,1150.9 2092.1,1147.8 2093.4,1148.4C2094.7,1149.0 2096.0,1151.8 2097.3,1156.4C2098.6,1161.0 2099.9,1169.6 2101.3,1176.2C2102.7,1182.8 2104.6,1191.8 2105.9,1196.0C2107.2,1200.2 2108.1,1201.8 2109.2,1201.3C2110.3,1200.8 2111.6,1195.8 2112.5,1192.7C2113.4,1189.6 2114.2,1184.5 2114.5,1182.8" stroke="#ff7a1f"/>
<path d="M203.0,1275.0C203.8,1272.3 206.2,1264.0 207.5,1259.0C208.8,1254.0 209.9,1248.5 211.0,1245.0C212.1,1241.5 212.7,1239.7 214.0,1237.7C215.3,1235.8 217.5,1233.6 219.1,1233.3C220.7,1233.0 222.3,1234.8 223.5,1236.0C224.7,1237.2 225.6,1238.3 226.4,1240.6C227.2,1242.9 227.9,1246.9 228.5,1250.0C229.1,1253.1 229.2,1255.2 230.0,1259.4C230.8,1263.6 231.2,1272.4 233.0,1275.0C234.8,1277.6 239.0,1277.6 241.0,1275.0C243.0,1272.4 243.3,1263.5 245.2,1259.4C247.1,1255.4 250.4,1252.6 252.5,1250.7C254.6,1248.8 255.9,1248.6 258.0,1248.0C260.1,1247.4 262.6,1246.2 264.8,1247.1C267.0,1248.0 269.5,1251.8 271.3,1253.6C273.1,1255.4 274.0,1257.2 275.6,1258.0C277.2,1258.8 279.1,1258.6 281.0,1258.5C282.9,1258.4 285.6,1258.6 287.2,1257.2C288.8,1255.8 289.5,1252.3 290.5,1250.0C291.5,1247.7 291.9,1246.6 293.0,1243.5C294.1,1240.4 295.5,1233.4 297.4,1231.2C299.3,1229.0 302.5,1230.2 304.6,1230.4C306.7,1230.6 308.6,1231.9 310.0,1232.5C311.4,1233.1 312.0,1236.4 313.3,1234.0C314.6,1231.6 316.2,1223.0 317.7,1218.1C319.1,1213.1 320.6,1207.1 322.0,1204.3C323.4,1201.5 324.7,1200.3 326.4,1201.4C328.1,1202.5 330.0,1208.7 332.2,1210.9C334.4,1213.1 336.3,1215.1 339.4,1214.5C342.4,1213.9 347.2,1209.7 350.5,1207.2C353.8,1204.7 356.4,1200.6 359.4,1199.6C362.4,1198.5 365.8,1201.6 368.3,1200.9C370.8,1200.2 372.6,1199.2 374.3,1195.2C376.0,1191.2 377.2,1181.9 378.7,1177.1C380.1,1172.3 381.4,1168.4 383.0,1166.2C384.6,1164.0 386.4,1163.4 388.1,1164.1C389.8,1164.8 391.6,1167.6 393.2,1170.6C394.8,1173.6 395.9,1178.8 397.5,1182.2C399.1,1185.6 400.9,1189.1 402.6,1190.9C404.3,1192.7 405.9,1193.0 407.7,1193.0C409.5,1193.0 411.6,1192.0 413.5,1190.9C415.4,1189.8 417.6,1188.8 419.3,1186.5C421.0,1184.2 421.9,1180.1 423.6,1177.1C425.3,1174.1 427.3,1170.3 429.4,1168.4C431.4,1166.5 433.7,1165.4 435.9,1165.5C438.1,1165.6 440.2,1167.3 442.5,1169.1C444.8,1170.9 447.4,1174.0 449.7,1176.4C452.0,1178.8 454.3,1183.5 456.2,1183.6C458.1,1183.7 460.0,1180.0 461.3,1177.1C462.6,1174.2 462.9,1168.6 464.2,1166.2C465.5,1163.8 467.5,1162.6 469.3,1162.6C471.1,1162.6 473.2,1164.4 475.1,1166.2C477.0,1168.0 479.0,1171.7 480.9,1173.5C482.8,1175.3 484.9,1178.1 486.7,1177.1C488.5,1176.1 489.9,1171.1 491.7,1167.7C493.5,1164.3 495.7,1159.0 497.5,1156.8C499.3,1154.6 500.9,1154.2 502.6,1154.6C504.3,1155.0 506.1,1156.5 507.7,1159.0C509.3,1161.5 510.6,1165.1 512.0,1169.9C513.5,1174.7 515.2,1183.5 516.4,1188.0C517.6,1192.5 518.1,1194.5 519.3,1196.7C520.5,1198.9 522.1,1199.4 523.6,1201.0C525.1,1202.6 526.9,1203.8 528.0,1206.1C529.1,1208.4 529.1,1211.9 530.4,1214.8C531.6,1217.7 533.6,1222.0 535.5,1223.7C537.4,1225.4 539.3,1225.6 541.8,1225.0C544.3,1224.4 548.2,1219.9 550.7,1219.9C553.2,1219.9 554.8,1221.4 557.1,1225.0C559.4,1228.6 562.2,1235.9 564.7,1241.4C567.2,1246.9 570.0,1256.8 572.3,1257.9C574.6,1259.0 576.5,1253.1 578.6,1247.8C580.7,1242.5 582.7,1231.1 585.0,1226.2C587.3,1221.3 590.3,1222.4 592.6,1218.6C594.9,1214.8 597.0,1207.6 598.9,1203.4C600.8,1199.2 602.1,1195.8 604.0,1193.3C605.9,1190.8 608.2,1191.0 610.3,1188.2C612.4,1185.5 614.4,1177.4 616.7,1176.8C619.0,1176.2 621.8,1183.4 624.3,1184.4C626.8,1185.5 629.6,1182.9 631.9,1183.1C634.2,1183.3 636.3,1187.6 638.2,1185.7C640.1,1183.8 641.8,1175.5 643.3,1171.7C644.8,1167.9 645.4,1162.4 647.1,1162.8C648.8,1163.2 651.1,1172.5 653.4,1174.2C655.7,1175.9 658.5,1171.9 661.0,1173.0C663.5,1174.1 666.6,1181.9 668.7,1180.6C670.8,1179.3 672.2,1170.1 673.7,1165.4C675.2,1160.8 675.8,1152.3 677.5,1152.7C679.2,1153.1 682.2,1166.9 683.9,1167.9C685.6,1169.0 686.0,1162.8 687.7,1159.0C689.4,1155.2 691.0,1147.0 694.0,1145.1C697.0,1143.2 702.2,1145.9 705.4,1147.6C708.6,1149.3 710.5,1152.2 713.0,1155.2C715.5,1158.2 718.1,1165.0 720.6,1165.4C723.1,1165.8 725.8,1159.7 728.3,1157.8C730.8,1155.9 733.6,1153.6 735.9,1154.0C738.2,1154.4 740.1,1156.5 742.2,1160.3C744.3,1164.1 746.6,1172.6 748.5,1176.8C750.4,1181.0 751.7,1184.4 753.6,1185.7C755.5,1187.0 757.9,1182.3 760.0,1184.4C762.1,1186.5 764.4,1194.7 766.3,1198.3C768.2,1201.9 769.1,1204.7 771.4,1205.9C773.7,1207.1 777.0,1205.4 780.1,1205.6C783.2,1205.8 787.8,1204.4 790.3,1206.9C792.8,1209.5 793.7,1217.1 795.4,1220.9C797.1,1224.7 798.1,1228.9 800.4,1229.7C802.7,1230.5 806.3,1227.4 809.3,1225.9C812.3,1224.4 815.7,1224.5 818.2,1220.9C820.7,1217.3 822.4,1208.9 824.5,1204.4C826.6,1200.0 828.4,1194.8 830.9,1194.2C833.4,1193.6 837.2,1197.8 839.7,1200.6C842.2,1203.3 844.2,1207.3 846.1,1210.7C848.0,1214.1 849.1,1220.7 851.2,1220.9C853.3,1221.1 856.5,1212.0 858.8,1212.0C861.1,1212.0 862.8,1218.4 865.1,1220.9C867.4,1223.4 870.2,1226.8 872.7,1227.2C875.2,1227.6 877.8,1222.1 880.3,1223.4C882.8,1224.7 885.4,1235.2 887.9,1234.8C890.4,1234.4 893.4,1221.8 895.5,1220.9C897.6,1220.1 898.9,1225.5 900.6,1229.7C902.3,1233.9 904.0,1241.8 905.7,1246.2C907.4,1250.7 908.5,1255.3 910.8,1256.4C913.1,1257.5 916.6,1252.0 919.6,1252.6C922.6,1253.2 926.0,1259.2 928.5,1260.2C931.0,1261.2 932.5,1261.9 934.8,1258.9C937.1,1255.9 940.0,1246.8 942.5,1242.4C945.0,1238.0 947.6,1232.3 950.1,1232.3C952.6,1232.3 954.8,1239.0 957.7,1242.4C960.7,1245.8 964.6,1250.1 967.8,1252.6C971.0,1255.1 974.0,1259.3 976.7,1257.6C979.5,1255.9 982.0,1248.3 984.3,1242.4C986.6,1236.5 988.7,1226.5 990.6,1222.1C992.5,1217.7 993.8,1215.2 995.7,1215.8C997.6,1216.4 1000.0,1220.4 1002.1,1225.9C1004.2,1231.4 1006.3,1243.7 1008.4,1248.8C1010.5,1253.9 1012.0,1257.5 1014.7,1256.4C1017.5,1255.3 1022.2,1242.8 1024.9,1242.4C1027.7,1242.0 1028.9,1251.5 1031.2,1253.8C1033.5,1256.1 1035.7,1255.5 1038.8,1256.4C1041.9,1257.4 1044.6,1259.0 1050.1,1259.5C1055.6,1260.0 1067.2,1262.6 1071.7,1259.5C1076.2,1256.4 1074.9,1244.9 1076.8,1240.7C1078.7,1236.5 1081.0,1234.4 1083.1,1234.4C1085.2,1234.4 1087.6,1236.7 1089.5,1240.7C1091.4,1244.7 1091.8,1258.9 1094.5,1258.5C1097.2,1258.1 1102.3,1243.7 1105.9,1238.2C1109.5,1232.7 1113.3,1225.1 1116.1,1225.5C1118.8,1225.9 1120.3,1235.0 1122.4,1240.7C1124.5,1246.4 1126.5,1256.4 1128.8,1259.5C1131.1,1262.6 1133.9,1265.6 1136.4,1259.5C1138.9,1253.4 1141.9,1229.7 1144.0,1223.0C1146.1,1216.3 1147.0,1217.7 1149.1,1219.2C1151.2,1220.7 1154.4,1225.9 1156.7,1231.8C1159.0,1237.7 1160.5,1252.8 1163.0,1254.7C1165.5,1256.6 1168.9,1246.7 1171.9,1243.3C1174.9,1239.9 1177.8,1235.2 1180.8,1234.4C1183.8,1233.6 1186.6,1236.7 1189.6,1238.2C1192.5,1239.7 1196.0,1244.4 1198.5,1243.3C1201.0,1242.2 1202.5,1234.5 1204.8,1231.8C1207.1,1229.0 1209.5,1226.1 1212.5,1226.8C1215.5,1227.5 1219.6,1234.7 1222.6,1235.7C1225.5,1236.8 1227.5,1230.4 1230.2,1233.1C1233.0,1235.8 1236.3,1251.2 1239.1,1252.1C1241.8,1252.9 1244.2,1243.0 1246.7,1238.2C1249.2,1233.4 1252.0,1224.3 1254.3,1223.0C1256.6,1221.7 1258.3,1228.1 1260.6,1230.6C1262.9,1233.1 1265.3,1239.7 1268.3,1238.2C1271.3,1236.7 1275.7,1223.8 1278.4,1221.7C1281.1,1219.6 1282.4,1220.6 1284.7,1225.5C1287.0,1230.4 1290.5,1245.0 1292.4,1250.9C1294.3,1256.8 1293.9,1259.3 1296.2,1261.0C1298.5,1262.7 1303.3,1262.9 1306.3,1261.0C1309.2,1259.1 1311.4,1251.1 1313.9,1249.6C1316.4,1248.1 1319.3,1250.4 1321.4,1252.1C1323.5,1253.8 1323.1,1258.4 1326.5,1259.7C1329.9,1261.0 1338.1,1262.2 1341.7,1259.7C1345.3,1257.2 1345.9,1249.3 1348.0,1244.5C1350.1,1239.7 1352.5,1233.8 1354.4,1230.6C1356.3,1227.4 1357.4,1224.5 1359.5,1225.5C1361.6,1226.5 1364.1,1235.9 1367.1,1236.9C1370.0,1238.0 1374.5,1232.0 1377.2,1231.8C1379.9,1231.6 1381.6,1233.4 1383.5,1235.7C1385.4,1238.0 1386.7,1242.0 1388.6,1245.8C1390.5,1249.6 1392.5,1256.4 1395.0,1258.5C1397.5,1260.6 1401.5,1261.9 1403.8,1258.5C1406.1,1255.1 1407.2,1244.3 1408.9,1238.2C1410.6,1232.1 1412.1,1225.7 1414.0,1221.7C1415.9,1217.7 1418.2,1213.9 1420.3,1214.1C1422.4,1214.3 1424.4,1219.6 1426.7,1223.0C1429.0,1226.4 1431.6,1231.0 1434.3,1234.4C1437.0,1237.8 1440.6,1241.4 1443.1,1243.3C1445.6,1245.2 1447.4,1246.0 1449.5,1245.8C1451.6,1245.6 1453.5,1240.1 1455.8,1242.0C1458.1,1243.9 1461.1,1256.4 1463.4,1257.2C1465.7,1258.0 1467.9,1251.8 1469.8,1247.1C1471.7,1242.4 1472.9,1233.8 1474.8,1229.3C1476.7,1224.8 1478.9,1220.4 1481.2,1220.4C1483.5,1220.4 1486.3,1225.9 1488.8,1229.3C1491.3,1232.7 1493.9,1238.2 1496.4,1240.7C1498.9,1243.2 1501.5,1244.9 1504.0,1244.5C1506.5,1244.1 1509.7,1241.8 1511.6,1238.2C1513.5,1234.6 1513.9,1226.8 1515.4,1223.0C1516.9,1219.2 1518.6,1215.4 1520.5,1215.4C1522.4,1215.4 1524.9,1218.8 1526.8,1223.0C1528.7,1227.2 1530.0,1234.8 1531.9,1240.7C1533.8,1246.6 1536.6,1255.5 1538.3,1258.5C1540.0,1261.5 1540.6,1261.0 1542.1,1258.5C1543.6,1256.0 1545.4,1246.5 1547.1,1243.3C1548.8,1240.1 1550.5,1239.5 1552.2,1239.5C1553.9,1239.5 1555.6,1239.9 1557.3,1243.3C1559.0,1246.7 1560.8,1254.9 1562.3,1259.7C1563.8,1264.5 1564.4,1270.0 1566.0,1272.0C1567.6,1274.0 1570.4,1274.0 1572.0,1272.0C1573.6,1270.0 1574.2,1262.6 1575.5,1259.7C1576.8,1256.8 1578.2,1256.2 1580.0,1254.8C1581.8,1253.3 1584.0,1252.3 1586.3,1251.0C1588.6,1249.7 1591.7,1246.8 1594.0,1247.2C1596.3,1247.6 1598.2,1251.6 1600.3,1253.5C1602.4,1255.4 1604.9,1258.2 1606.6,1258.6C1608.3,1259.0 1608.9,1258.6 1610.4,1256.1C1611.9,1253.6 1613.4,1246.6 1615.5,1243.4C1617.6,1240.2 1620.6,1237.9 1623.1,1237.1C1625.6,1236.2 1628.6,1240.0 1630.7,1238.3C1632.8,1236.6 1633.7,1230.5 1635.8,1226.9C1637.9,1223.3 1641.3,1217.7 1643.4,1216.8C1645.5,1215.9 1646.8,1217.4 1648.5,1221.8C1650.2,1226.2 1651.8,1237.5 1653.5,1243.4C1655.2,1249.3 1656.3,1255.1 1658.6,1257.4C1660.9,1259.7 1665.0,1259.7 1667.5,1257.4C1670.0,1255.1 1671.3,1247.6 1673.8,1243.4C1676.3,1239.2 1680.2,1232.6 1682.7,1232.0C1685.2,1231.4 1687.2,1236.2 1689.1,1239.6C1691.0,1243.0 1692.6,1248.9 1694.1,1252.3C1695.6,1255.7 1696.8,1256.6 1697.9,1259.9C1699.1,1263.2 1699.0,1270.0 1701.0,1272.0C1703.0,1274.0 1707.9,1274.2 1710.0,1272.0C1712.1,1269.8 1712.2,1265.0 1713.6,1258.6C1715.0,1252.1 1717.0,1240.7 1718.2,1233.3C1719.4,1225.9 1719.1,1217.8 1720.8,1214.2C1722.5,1210.6 1726.3,1212.5 1728.4,1211.7C1730.5,1210.9 1731.1,1210.9 1733.4,1209.2C1735.7,1207.5 1739.8,1202.0 1742.3,1201.6C1744.8,1201.2 1746.6,1203.0 1748.7,1206.6C1750.8,1210.2 1753.1,1217.8 1755.0,1223.1C1756.9,1228.4 1758.2,1233.6 1760.1,1238.3C1762.0,1243.0 1764.3,1247.6 1766.4,1251.0C1768.5,1254.4 1770.8,1258.6 1772.7,1258.6C1774.6,1258.6 1776.1,1254.4 1777.8,1251.0C1779.5,1247.6 1780.8,1241.5 1782.9,1238.3C1785.0,1235.1 1788.0,1232.0 1790.5,1232.0C1793.0,1232.0 1795.6,1235.3 1798.1,1238.3C1800.6,1241.2 1803.2,1249.3 1805.7,1249.7C1808.2,1250.1 1810.8,1244.9 1813.3,1240.9C1815.8,1236.9 1818.6,1227.6 1820.9,1225.7C1823.2,1223.8 1825.0,1228.5 1827.3,1229.5C1829.6,1230.5 1832.6,1229.0 1834.9,1232.0C1837.2,1235.0 1839.3,1243.4 1841.2,1247.2C1843.1,1251.0 1844.4,1255.4 1846.3,1254.8C1848.2,1254.2 1851.2,1246.1 1852.6,1243.4C1854.0,1240.8 1853.5,1240.9 1854.9,1238.9C1856.3,1236.9 1858.8,1231.4 1861.0,1231.6C1863.2,1231.8 1866.0,1237.9 1868.3,1240.1C1870.5,1242.3 1872.2,1245.6 1874.5,1245.0C1876.8,1244.4 1879.6,1237.1 1881.8,1236.5C1884.0,1235.9 1885.9,1239.0 1887.9,1241.4C1889.9,1243.8 1892.0,1248.0 1894.0,1251.1C1896.0,1254.1 1897.8,1258.5 1900.1,1259.7C1902.3,1260.9 1905.2,1262.4 1907.5,1258.5C1909.8,1254.6 1911.6,1241.8 1913.6,1236.5C1915.6,1231.2 1917.7,1226.7 1919.7,1226.7C1921.7,1226.7 1923.3,1232.8 1925.8,1236.5C1928.2,1240.2 1932.0,1248.3 1934.4,1248.7C1936.9,1249.1 1938.3,1242.6 1940.5,1238.9C1942.7,1235.2 1945.6,1227.1 1947.8,1226.7C1950.0,1226.3 1952.1,1232.8 1953.9,1236.5C1955.7,1240.2 1956.8,1245.2 1958.8,1248.7C1960.8,1252.2 1963.1,1255.7 1966.2,1257.3C1969.3,1258.9 1974.2,1260.8 1977.2,1258.5C1980.2,1256.2 1981.8,1247.7 1984.5,1243.8C1987.2,1239.9 1990.2,1235.6 1993.1,1235.2C1995.9,1234.8 1998.5,1238.5 2001.6,1241.4C2004.6,1244.3 2008.8,1250.8 2011.4,1252.4C2014.1,1254.0 2015.5,1253.1 2017.5,1251.1C2019.5,1249.0 2021.1,1241.9 2023.6,1240.1C2026.0,1238.3 2029.8,1241.9 2032.2,1240.1C2034.7,1238.3 2036.7,1231.5 2038.3,1229.1C2039.9,1226.7 2040.4,1225.1 2042.0,1225.5C2043.6,1225.9 2045.9,1229.4 2048.1,1231.6C2050.3,1233.8 2052.9,1237.3 2055.4,1238.9C2057.9,1240.5 2060.6,1239.0 2062.8,1241.4C2065.1,1243.9 2067.1,1250.5 2068.9,1253.6C2070.7,1256.6 2069.5,1258.7 2073.8,1259.7C2078.1,1260.7 2089.7,1262.2 2094.6,1259.7C2099.5,1257.2 2100.2,1250.9 2103.1,1245.0C2105.9,1239.1 2109.9,1228.7 2111.7,1224.2C2113.5,1219.7 2113.6,1219.0 2114.0,1218.0" stroke="#1496dc"/>
</g>
</g>
</svg>
</body></html>
